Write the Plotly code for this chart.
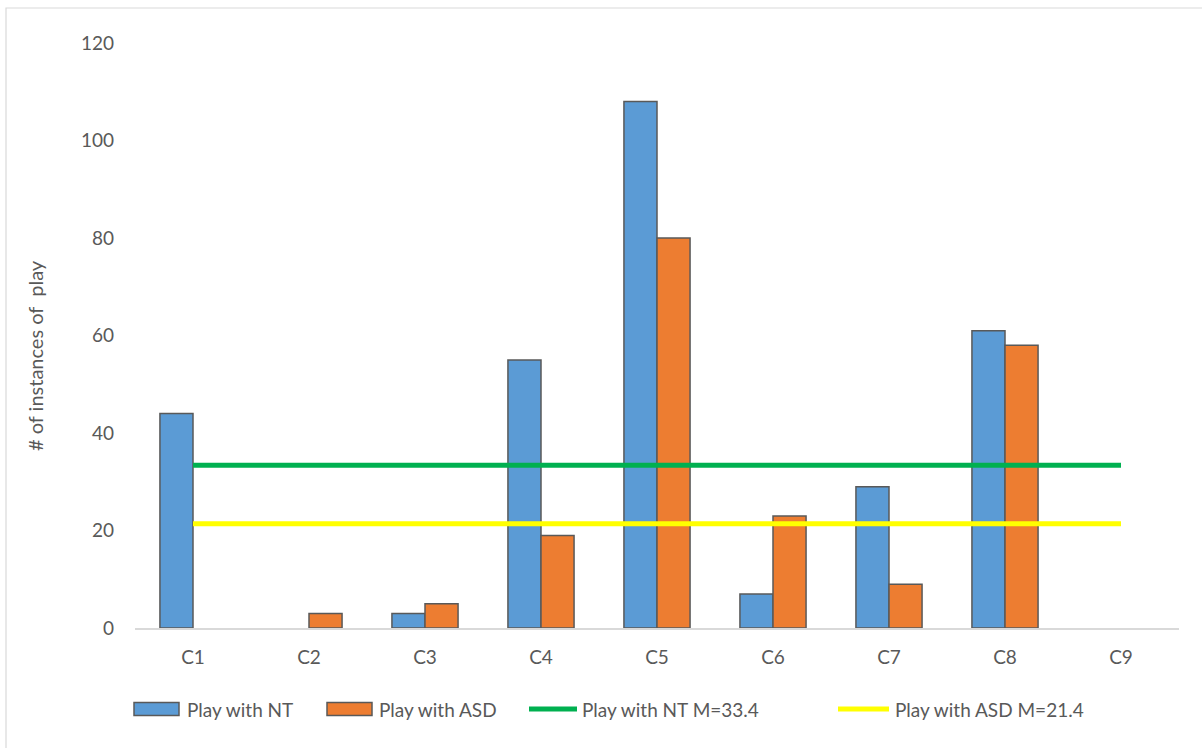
import plotly.graph_objects as go

# Play instances per child, with the group means
categories = ["C1", "C2", "C3", "C4", "C5", "C6", "C7", "C8", "C9"]
play_nt = [44, 0, 3, 55, 108, 7, 29, 61, 0]
play_asd = [0, 3, 5, 19, 80, 23, 9, 58, 0]
nt_mean = 33.4
asd_mean = 21.4

series_names = ["Play with NT", "Play with ASD",
                f"Play with NT M={nt_mean}", f"Play with ASD M={asd_mean}"]

BLUE = "#5B9BD5"
ORANGE = "#ED7D31"
GREEN = "#00B050"
YELLOW = "#FFFF00"
EDGE = "#595959"
TEXT = "#595959"
FONT = "Lato, 'Open Sans', sans-serif"

W, H = 1202, 748
L, R, T, B = 135, 23, 43, 120
PW, PH = W - L - R, H - T - B


def px(x):
    return (x - L) / PW


def py(y):
    return (H - B - y) / PH


def outline_widths(values, width=1.5):
    # no outline on empty bars, so they do not leave a stroke on the axis
    return [width if v else 0 for v in values]


fig = go.Figure()
fig.add_trace(go.Bar(x=categories, y=play_nt, name=series_names[0],
                     marker=dict(color=BLUE,
                                 line=dict(color=EDGE, width=outline_widths(play_nt)))))
fig.add_trace(go.Bar(x=categories, y=play_asd, name=series_names[1],
                     marker=dict(color=ORANGE,
                                 line=dict(color=EDGE, width=outline_widths(play_asd)))))
fig.add_trace(go.Scatter(x=categories, y=[nt_mean] * len(categories), mode="lines",
                         name=series_names[2], line=dict(color=GREEN, width=5)))
fig.add_trace(go.Scatter(x=categories, y=[asd_mean] * len(categories), mode="lines",
                         name=series_names[3], line=dict(color=YELLOW, width=5)))

fig.update_layout(
    width=W, height=H,
    margin=dict(l=L, r=R, t=T, b=B, pad=0),
    paper_bgcolor="white", plot_bgcolor="white",
    barmode="group", bargap=0.43, bargroupgap=0,
    showlegend=False,
    font=dict(family=FONT, size=19, color=TEXT),
)
fig.update_xaxes(
    type="category", range=[-0.5, len(categories) - 0.5],
    showline=True, linecolor="#D9D9D9", linewidth=1.5,
    showgrid=False, ticks="", ticklabelstandoff=11,
    tickfont=dict(family=FONT, size=19, color=TEXT),
)
fig.update_yaxes(
    range=[0, 120], dtick=20, showgrid=False, zeroline=False,
    showline=False, ticks="", ticklabelstandoff=20,
    tickfont=dict(family=FONT, size=19, color=TEXT),
)

# Y axis title
fig.add_annotation(
    xref="paper", yref="paper", x=px(35), y=py(356),
    text="# of instances of  play", textangle=-90, showarrow=False,
    font=dict(family=FONT, size=20, color=TEXT),
    xanchor="center", yanchor="middle",
)

# Chart-area border
fig.add_shape(type="rect", xref="paper", yref="paper",
              x0=px(6), x1=px(W + 5), y0=py(8), y1=py(H + 5),
              line=dict(color="#D9D9D9", width=1.2), fillcolor="rgba(0,0,0,0)",
              layer="below")

# Legend row below the axis
ly = 709
legend_items = [
    ("rect", BLUE, 134, 179, 185, series_names[0]),
    ("rect", ORANGE, 327, 372, 377, series_names[1]),
    ("line", GREEN, 529, 577, 580, series_names[2]),
    ("line", YELLOW, 838, 889, 893, series_names[3]),
]
for kind, color, x0, x1, tx, label in legend_items:
    if kind == "rect":
        fig.add_shape(type="rect", xref="paper", yref="paper",
                      x0=px(x0), x1=px(x1), y0=py(ly - 6.5), y1=py(ly + 6.5),
                      fillcolor=color, line=dict(color=EDGE, width=1.5))
    else:
        fig.add_shape(type="line", xref="paper", yref="paper",
                      x0=px(x0), x1=px(x1), y0=py(ly), y1=py(ly),
                      line=dict(color=color, width=5))
    fig.add_annotation(xref="paper", yref="paper", x=px(tx), y=py(ly),
                       text=label, showarrow=False, xanchor="left", yanchor="middle",
                       font=dict(family=FONT, size=19, color=TEXT))

fig.write_html("out.html")
